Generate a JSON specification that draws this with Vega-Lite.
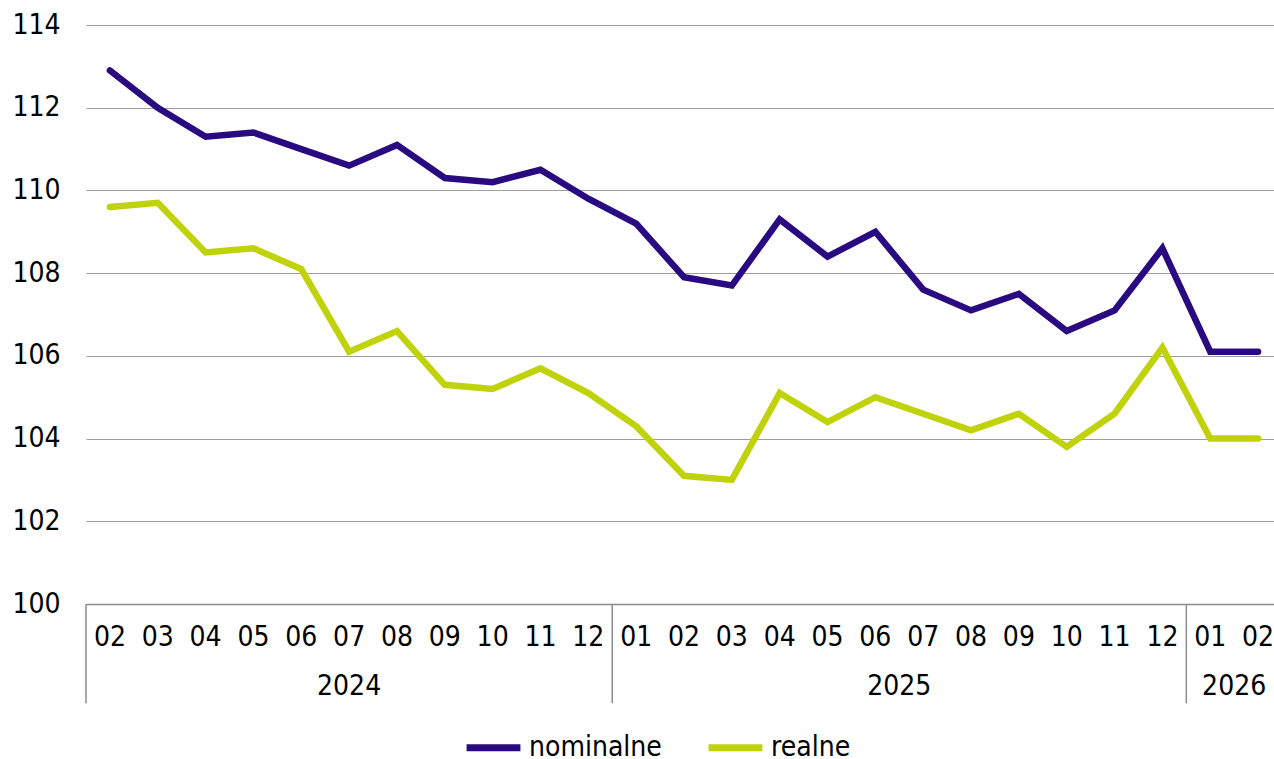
{
  "$schema": "https://vega.github.io/schema/vega-lite/v6.json",
  "width": 1188,
  "height": 579,
  "autosize": {"type": "none"},
  "padding": {"left": 86, "top": 25, "right": 0, "bottom": 155},
  "background": "white",
  "config": {
    "font": "DejaVu Sans Condensed, sans-serif",
    "view": {"stroke": null}
  },
  "data": {
    "values": [
      {"key": "2024-02", "month": "02", "year": "2024", "nominalne": 112.9, "realne": 109.6},
      {"key": "2024-03", "month": "03", "year": "2024", "nominalne": 112.0, "realne": 109.7},
      {"key": "2024-04", "month": "04", "year": "2024", "nominalne": 111.3, "realne": 108.5},
      {"key": "2024-05", "month": "05", "year": "2024", "nominalne": 111.4, "realne": 108.6},
      {"key": "2024-06", "month": "06", "year": "2024", "nominalne": 111.0, "realne": 108.1},
      {"key": "2024-07", "month": "07", "year": "2024", "nominalne": 110.6, "realne": 106.1},
      {"key": "2024-08", "month": "08", "year": "2024", "nominalne": 111.1, "realne": 106.6},
      {"key": "2024-09", "month": "09", "year": "2024", "nominalne": 110.3, "realne": 105.3},
      {"key": "2024-10", "month": "10", "year": "2024", "nominalne": 110.2, "realne": 105.2},
      {"key": "2024-11", "month": "11", "year": "2024", "nominalne": 110.5, "realne": 105.7},
      {"key": "2024-12", "month": "12", "year": "2024", "nominalne": 109.8, "realne": 105.1},
      {"key": "2025-01", "month": "01", "year": "2025", "nominalne": 109.2, "realne": 104.3},
      {"key": "2025-02", "month": "02", "year": "2025", "nominalne": 107.9, "realne": 103.1},
      {"key": "2025-03", "month": "03", "year": "2025", "nominalne": 107.7, "realne": 103.0},
      {"key": "2025-04", "month": "04", "year": "2025", "nominalne": 109.3, "realne": 105.1},
      {"key": "2025-05", "month": "05", "year": "2025", "nominalne": 108.4, "realne": 104.4},
      {"key": "2025-06", "month": "06", "year": "2025", "nominalne": 109.0, "realne": 105.0},
      {"key": "2025-07", "month": "07", "year": "2025", "nominalne": 107.6, "realne": 104.6},
      {"key": "2025-08", "month": "08", "year": "2025", "nominalne": 107.1, "realne": 104.2},
      {"key": "2025-09", "month": "09", "year": "2025", "nominalne": 107.5, "realne": 104.6},
      {"key": "2025-10", "month": "10", "year": "2025", "nominalne": 106.6, "realne": 103.8},
      {"key": "2025-11", "month": "11", "year": "2025", "nominalne": 107.1, "realne": 104.6},
      {"key": "2025-12", "month": "12", "year": "2025", "nominalne": 108.6, "realne": 106.2},
      {"key": "2026-01", "month": "01", "year": "2026", "nominalne": 106.1, "realne": 104.0},
      {"key": "2026-02", "month": "02", "year": "2026", "nominalne": 106.1, "realne": 104.0}
    ]
  },
  "layer": [
    {
      "transform": [{"fold": ["nominalne", "realne"], "as": ["series", "value"]}],
      "mark": {"type": "line", "strokeWidth": 6.5, "strokeCap": "round", "strokeJoin": "miter", "clip": false},
      "encoding": {
        "x": {
          "field": "key", "type": "ordinal", "sort": null,
          "scale": {"type": "band", "paddingInner": 0, "paddingOuter": 0, "range": [0, 1196]},
          "axis": {
            "title": null, "labelExpr": "slice(datum.value, 5)", "labelAngle": 0,
            "ticks": false, "grid": false, "domain": true, "domainColor": "#8c8c8c", "domainWidth": 1.5,
            "labelFontSize": 28, "labelColor": "#000000", "labelPadding": 19
          }
        },
        "y": {
          "field": "value", "type": "quantitative",
          "scale": {"domain": [100, 114], "nice": false, "zero": false},
          "axis": {
            "title": null, "values": [100, 102, 104, 106, 108, 110, 112, 114],
            "domain": false, "ticks": false, "grid": true, "gridColor": "#9e9e9e", "gridWidth": 1.2,
            "labelFontSize": 28, "labelColor": "#000000", "labelPadding": 26
          }
        },
        "color": {
          "field": "series", "type": "nominal",
          "scale": {"domain": ["nominalne", "realne"], "range": ["#2a0a80", "#bfd20a"]},
          "legend": {
            "title": null, "orient": "none", "direction": "horizontal",
            "legendX": 377, "legendY": 692,
            "symbolType": "stroke", "symbolSize": 2900, "symbolStrokeWidth": 7,
            "labelFontSize": 28, "labelColor": "#000000", "labelOffset": 5,
            "columnPadding": 32
          }
        }
      }
    },
    {
      "transform": [{"filter": "datum.month == '01' || datum.key == '2024-02'"}],
      "mark": {"type": "rule", "color": "#8c8c8c", "strokeWidth": 1.5, "clip": false},
      "encoding": {
        "x": {"field": "key", "type": "ordinal", "sort": null, "bandPosition": 0,
              "scale": {"type": "band", "paddingInner": 0, "paddingOuter": 0, "range": [0, 1196]}},
        "y": {"datum": 100, "type": "quantitative"},
        "y2": {"datum": 97.6}
      }
    },
    {
      "transform": [{"filter": "datum.key == '2024-07'"}],
      "mark": {"type": "text", "fontSize": 28, "color": "#000000", "baseline": "middle", "clip": false},
      "encoding": {
        "x": {"field": "key", "type": "ordinal", "sort": null, "bandPosition": 0.5,
              "scale": {"type": "band", "paddingInner": 0, "paddingOuter": 0, "range": [0, 1196]}},
        "y": {"datum": 98.0, "type": "quantitative"},
        "text": {"field": "year"}
      }
    },
    {
      "transform": [{"filter": "datum.key == '2025-07' || datum.key == '2026-02'"}],
      "mark": {"type": "text", "fontSize": 28, "color": "#000000", "baseline": "middle", "clip": false},
      "encoding": {
        "x": {"field": "key", "type": "ordinal", "sort": null, "bandPosition": 0,
              "scale": {"type": "band", "paddingInner": 0, "paddingOuter": 0, "range": [0, 1196]}},
        "y": {"datum": 98.0, "type": "quantitative"},
        "text": {"field": "year"}
      }
    }
  ]
}
